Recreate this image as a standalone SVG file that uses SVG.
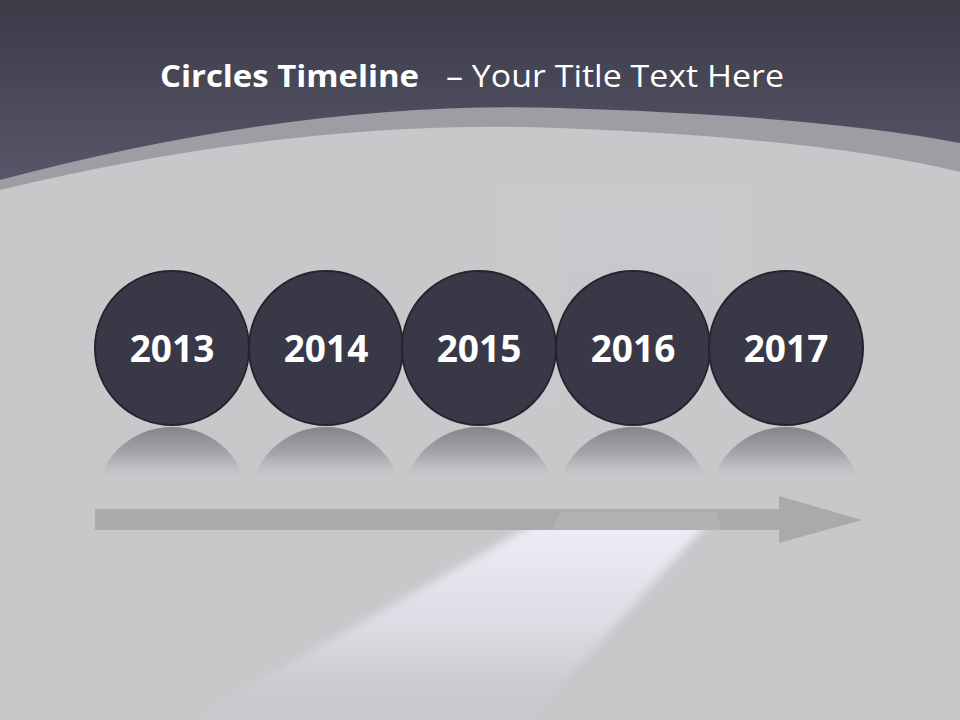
<svg xmlns="http://www.w3.org/2000/svg" width="960" height="720" viewBox="0 0 960 720">
  <defs>
    <linearGradient id="hdr" x1="0" y1="0" x2="0" y2="1">
      <stop offset="0" stop-color="#3b3a47"/>
      <stop offset="1" stop-color="#5b5a6d"/>
    </linearGradient>
    <linearGradient id="refl" gradientUnits="userSpaceOnUse" x1="0" y1="427" x2="0" y2="482">
      <stop offset="0" stop-color="#85848d"/>
      <stop offset="0.5" stop-color="#a6a6ab"/>
      <stop offset="1" stop-color="#c8c8cb" stop-opacity="0"/>
    </linearGradient>
    <linearGradient id="beam" x1="0" y1="0" x2="0" y2="1">
      <stop offset="0" stop-color="#eeeef8"/>
      <stop offset="0.5" stop-color="#dfdfe8" stop-opacity="0.9"/>
      <stop offset="1" stop-color="#c9c9cc" stop-opacity="0.1"/>
    </linearGradient>
    <linearGradient id="door" x1="0" y1="0" x2="0" y2="1">
      <stop offset="0" stop-color="#cdcdd0" stop-opacity="0.45"/>
      <stop offset="1" stop-color="#c9c9cc" stop-opacity="0"/>
    </linearGradient>
    <filter id="soft" x="-20%" y="-20%" width="140%" height="140%">
      <feGaussianBlur stdDeviation="4"/>
    </filter>
    <clipPath id="reflClip">
      <rect x="0" y="427" width="960" height="56"/>
    </clipPath>
    <clipPath id="beamClip">
      <rect x="0" y="530" width="960" height="190"/>
    </clipPath>
    <style>
      .node circle.body { fill: #393847; stroke: #25242e; stroke-width: 2; }
      .node text { font-family: "Open Sans", "Liberation Sans", sans-serif; font-weight: bold; font-size: 37px; fill: #ffffff; text-anchor: middle; }
      .reflection { fill: url(#refl); }
      .title { font-family: "Open Sans", "Liberation Sans", sans-serif; font-size: 31px; fill: #ffffff; }
    </style>
  </defs>

  <!-- background -->
  <rect x="0" y="0" width="960" height="720" fill="#c8c8cb"/>
  <rect x="0" y="0" width="960" height="200" fill="url(#hdr)"/>
  <path d="M0,180 Q300,100 560,108 T960,143 L960,720 L0,720 Z" fill="#9e9da3"/>
  <path d="M0,190 Q300,118 560,128 T960,172 L960,720 L0,720 Z" fill="#c8c8cb"/>

  <!-- faint door and light beam -->
  <rect x="497" y="185" width="253" height="320" fill="url(#door)"/>
  <rect x="562" y="202" width="156" height="300" fill="#c6c6ca" opacity="0.25"/>
  <g clip-path="url(#beamClip)">
    <polygon points="542,520 710,520 520,730 172,730" fill="url(#beam)" filter="url(#soft)"/>
  </g>

  <!-- title -->
  <text class="title" x="160" y="87"><tspan font-weight="bold" textLength="259" lengthAdjust="spacingAndGlyphs">Circles Timeline</tspan><tspan x="446" textLength="338" lengthAdjust="spacingAndGlyphs">– Your Title Text Here</tspan></text>

  <!-- connectors -->
  <g id="connectors">
    <path d="M95,509 L779,509 L779,496 L862,520 L779,543 L779,530 L95,530 Z" fill="#aaaaad"/>
    <polygon points="560,512 716,512 722,530 552,530" fill="#b8b8bb" opacity="0.5"/>
  </g>

  <!-- nodes -->
  <g id="node-2013" class="node">
    <circle class="reflection" cx="172" cy="504" r="77" clip-path="url(#reflClip)"/>
    <circle class="body" cx="172" cy="348" r="77"/>
    <text x="172" y="362">2013</text>
  </g>
  <g id="node-2014" class="node">
    <circle class="reflection" cx="326" cy="504" r="77" clip-path="url(#reflClip)"/>
    <circle class="body" cx="326" cy="348" r="77"/>
    <text x="326" y="362">2014</text>
  </g>
  <g id="node-2015" class="node">
    <circle class="reflection" cx="479" cy="504" r="77" clip-path="url(#reflClip)"/>
    <circle class="body" cx="479" cy="348" r="77"/>
    <text x="479" y="362">2015</text>
  </g>
  <g id="node-2016" class="node">
    <circle class="reflection" cx="633" cy="504" r="77" clip-path="url(#reflClip)"/>
    <circle class="body" cx="633" cy="348" r="77"/>
    <text x="633" y="362">2016</text>
  </g>
  <g id="node-2017" class="node">
    <circle class="reflection" cx="786" cy="504" r="77" clip-path="url(#reflClip)"/>
    <circle class="body" cx="786" cy="348" r="77"/>
    <text x="786" y="362">2017</text>
  </g>
</svg>
